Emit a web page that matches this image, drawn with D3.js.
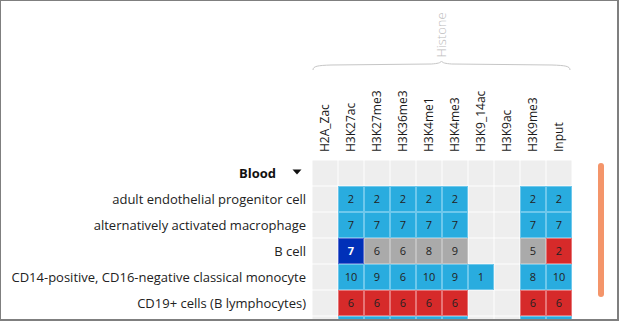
<!DOCTYPE html>
<html><head><meta charset="utf-8">
<script src="https://cdn.jsdelivr.net/npm/d3@7"></script>
<style>html,body{margin:0;padding:0;background:#fff;overflow:hidden}svg{display:block}</style>
</head><body>
<script>
const groupName = "Blood";
const groupLabel = "Histone";
const histones = ["H2A_Zac","H3K27ac","H3K27me3","H3K36me3","H3K4me1","H3K4me3","H3K9_14ac","H3K9ac","H3K9me3","Input"];
const cellTypes = ["adult endothelial progenitor cell","alternatively activated macrophage","B cell","CD14-positive, CD16-negative classical monocyte","CD19+ cells (B lymphocytes)",""];
const counts = [
  [null,2,2,2,2,2,null,null,2,2],
  [null,7,7,7,7,7,null,null,7,7],
  [null,7,6,6,8,9,null,null,5,2],
  [null,10,9,6,10,9,1,null,8,10],
  [null,6,6,6,6,6,null,null,6,6],
  [null,3,3,3,3,3,null,null,3,3]
];
const kinds = [
  "-bbbbb--bb",
  "-bbbbb--bb",
  "-dgggg--gr",
  "-bbbbbb-bb",
  "-rrrrr--rr",
  "-bbbbb--bb"
];
const fills = {b:"#29acdf", r:"#d62a2a", g:"#aaaaaa", d:"#0030b8"};
const strokes = {b:"#6ec8ec", r:"#e77577", g:"#c2c2c2", d:"#5a6fd2"};

const W = 619, H = 321;
const svg = d3.select("body").append("svg").attr("width", W).attr("height", H);

const x = d3.scaleBand().domain(histones).range([312, 572]);
const rowKeys = ["__group"].concat(cellTypes.map((d,i)=>"r"+i));
const y = d3.scaleBand().domain(rowKeys).range([160, 160 + 26*rowKeys.length]);

// background cells
const bg = svg.append("g");
rowKeys.forEach(rk => {
  histones.forEach(h => {
    bg.append("rect").attr("x", x(h)+0.5).attr("y", y(rk)+0.5)
      .attr("width", x.bandwidth()-1).attr("height", y.bandwidth()-1).attr("fill", "#eeeeee");
  });
});

// data cells
const cg = svg.append("g");
counts.forEach((row, i) => {
  const rk = "r"+i;
  row.forEach((v, j) => {
    const k = kinds[i][j];
    if (v === null || k === "-") return;
    const h = histones[j];
    cg.append("rect").attr("x", x(h)+0.5).attr("y", y(rk)+0.5)
      .attr("width", x.bandwidth()-1).attr("height", y.bandwidth()-1)
      .attr("fill", fills[k]).attr("stroke", strokes[k]).attr("stroke-width", 1);
    if (y(rk) + y.bandwidth() > H) return; // row scrolled out of view: number hidden
    cg.append("text").attr("x", x(h)+x.bandwidth()/2).attr("y", y(rk)+y.bandwidth()/2)
      .attr("dy", "0.36em").attr("text-anchor", "middle")
      .attr("font-family", "'Open Sans', sans-serif").attr("font-size", 11)
      .attr("font-weight", k === "d" ? "bold" : "normal")
      .attr("fill", k === "d" ? "#ffffff" : "#222222").text(v);
  });
});

// row labels
const lg = svg.append("g").attr("font-family", "'Open Sans', sans-serif").attr("font-size", 13).attr("fill", "#222");
cellTypes.forEach((c, i) => {
  if (!c) return;
  lg.append("text").attr("x", 306).attr("y", y("r"+i)+y.bandwidth()/2).attr("dy", "0.35em")
    .attr("text-anchor", "end").text(c);
});
lg.append("text").attr("x", 276).attr("y", y("__group")+y.bandwidth()/2).attr("dy", "0.35em")
  .attr("text-anchor", "end").attr("font-weight", "bold").attr("fill", "#111").text(groupName);
const ty = y("__group")+y.bandwidth()/2;
svg.append("path").attr("d", `M${292.5},${ty-3.5} L${301.5},${ty-3.5} L${297},${ty+1.5} Z`).attr("fill", "#111");

// column labels
const colg = svg.append("g").attr("font-family", "'Open Sans', sans-serif").attr("font-size", 12).attr("fill", "#1a1a1a");
histones.forEach(h => {
  colg.append("text").attr("transform", `translate(${x(h)+x.bandwidth()/2},152) rotate(-90)`)
    .attr("dy", "0.36em").attr("text-anchor", "start").text(h);
});

// brace + group label
const x0 = x(histones[0]) + 1, x1 = x(histones[histones.length-1]) + x.bandwidth() - 2, xm = (x0 + x1) / 2;
svg.append("path")
  .attr("d", `M${x0},70 C${x0},66 ${x0+5},65.5 ${x0+18},65 L${xm-10},64 C${xm-4},63.5 ${xm-1},63 ${xm},61 C${xm+1},63 ${xm+4},63.5 ${xm+10},64 L${x1-18},65 C${x1-5},65.5 ${x1},66 ${x1},70`)
  .attr("fill", "none").attr("stroke", "#c6c6c6").attr("stroke-width", 1);
svg.append("text").attr("transform", `translate(${xm},35) rotate(-90)`).attr("dy", "0.35em")
  .attr("text-anchor", "middle").attr("font-family", "'Open Sans', sans-serif").attr("font-size", 13)
  .attr("font-weight", 300).attr("fill", "#bdbdbd").text(groupLabel);

// scrollbar
svg.append("rect").attr("x", 598).attr("y", 163).attr("width", 6).attr("height", 134).attr("rx", 3)
  .attr("fill", "#f4956a");

// frame
const fr = svg.append("g").attr("fill", "#7f7f7f");
fr.append("rect").attr("x", 0).attr("y", 0).attr("width", W).attr("height", 1);
fr.append("rect").attr("x", 0).attr("y", 0).attr("width", 1).attr("height", H);
fr.append("rect").attr("x", 617).attr("y", 0).attr("width", 2).attr("height", H);
fr.append("rect").attr("x", 0).attr("y", 319).attr("width", W).attr("height", 2);
</script>
</body></html>
